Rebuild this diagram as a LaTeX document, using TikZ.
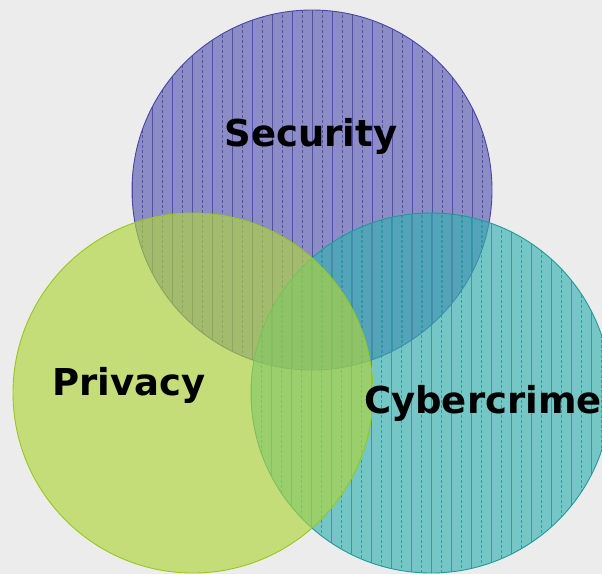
\documentclass[tikz,border=0pt]{standalone}
\usepackage{fontspec}
\setmainfont{DejaVu Sans}
\usetikzlibrary{positioning}

\definecolor{paper}{RGB}{236,236,236}
\definecolor{secfill}{RGB}{89,89,180}
\definecolor{secline}{RGB}{70,70,165}
\definecolor{privfill}{RGB}{175,213,60}
\definecolor{privline}{RGB}{150,200,30}
\definecolor{cybfill}{RGB}{55,178,178}
\definecolor{cybline}{RGB}{30,155,155}

\begin{document}
\begin{tikzpicture}[
    x=1pt, y=-1pt,
    ring/.style={circle, draw, line width=0.9pt, minimum size=360pt, inner sep=0pt, fill opacity=0.65},
    hatch/.style={line width=0.8pt, opacity=0.85},
    tag/.style={font=\fontsize{37}{40}\selectfont\bfseries, anchor=base, inner sep=0pt}
]
    \useasboundingbox (0,0) rectangle (602,574);
    \fill[paper] (0,0) rectangle (602,574);
    \clip (0,0) rectangle (602,574);

    % the three sets
    \node[ring, draw=secline, fill=secfill] (security) at (312,190) {};
    \begin{scope}
        \clip (security.center) circle [radius=180pt];
        \foreach \i in {0,2,...,36} \draw[hatch, secline] (132+10*\i,0) -- ++(0,380);
        \foreach \i in {1,3,...,35} \draw[hatch, secline, dash pattern=on 3pt off 2pt] (132+10*\i,0) -- ++(0,380);
    \end{scope}

    \node[ring, draw=cybline, fill=cybfill] (cybercrime) at (431,393) {};
    \begin{scope}
        \clip (cybercrime.center) circle [radius=180pt];
        \foreach \i in {0,2,...,36} \draw[hatch, cybline] (251+10*\i,200) -- ++(0,380);
        \foreach \i in {1,3,...,35} \draw[hatch, cybline, dash pattern=on 3pt off 2pt] (251+10*\i,200) -- ++(0,380);
    \end{scope}

    \node[ring, draw=privline, fill=privfill] (privacy) at (193,393) {};

    % labels
    \node[tag] (securitylabel) at (311,146) {Security};
    \node[tag] (privacylabel) at (129,395) {Privacy};
    \node[tag] (cybercrimelabel) at (483,413) {Cybercrime};
\end{tikzpicture}
\end{document}
